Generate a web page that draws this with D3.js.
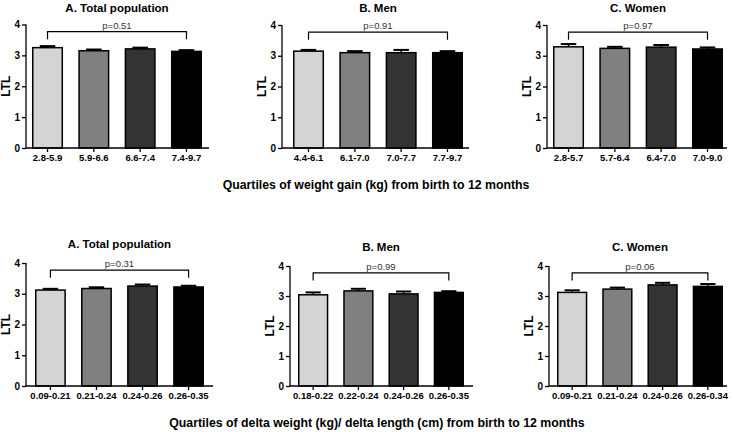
<!DOCTYPE html>
<html><head><meta charset="utf-8">
<script src="https://cdn.jsdelivr.net/npm/d3@7"></script>
<style>body{margin:0;background:#fff}svg{display:block}text{font-family:"Liberation Sans",Arial,sans-serif}</style>
</head><body><svg id="c" width="733" height="432"></svg>
<script>
const titles = ["A. Total population","B. Men","C. Women","A. Total population","B. Men","C. Women"];
const catTopA = ["2.8-5.9","5.9-6.6","6.6-7.4","7.4-9.7"];
const catTopB = ["4.4-6.1","6.1-7.0","7.0-7.7","7.7-9.7"];
const catTopC = ["2.8-5.7","5.7-6.4","6.4-7.0","7.0-9.0"];
const catBotA = ["0.09-0.21","0.21-0.24","0.24-0.26","0.26-0.35"];
const catBotB = ["0.18-0.22","0.22-0.24","0.24-0.26","0.26-0.35"];
const catBotC = ["0.09-0.21","0.21-0.24","0.24-0.26","0.26-0.34"];
const valTopA = [3.25,3.15,3.21,3.13], errTopA = [0.05,0.04,0.04,0.04];
const valTopB = [3.15,3.10,3.10,3.10], errTopB = [0.04,0.05,0.09,0.05];
const valTopC = [3.29,3.24,3.28,3.22], errTopC = [0.09,0.05,0.07,0.05];
const valBotA = [3.12,3.17,3.25,3.22], errBotA = [0.04,0.04,0.05,0.04];
const valBotB = [3.04,3.17,3.07,3.12], errBotB = [0.08,0.07,0.08,0.04];
const valBotC = [3.12,3.23,3.37,3.32], errBotC = [0.07,0.05,0.07,0.08];
const pValues = ["p=0.51","p=0.91","p=0.97","p=0.31","p=0.99","p=0.06"];
const yTicks = [0,1,2,3,4];
const fills = ["#d4d4d4","#808080","#333333","#000000"];
const xTitleTop = "Quartiles of weight gain (kg) from birth to 12 months";
const xTitleBot = "Quartiles of delta weight (kg)/ delta length (cm) from birth to 12 months";
const yLabel = "LTL";

// layout (positions only)
const layout = [
  {ax:26, b0:32, b1:202, ae:209, y0:148, y4:24.5, ty:12},
  {ax:282, b0:293, b1:463, ae:469, y0:148, y4:25, ty:12},
  {ax:547, b0:553, b1:723, ae:727, y0:148, y4:25, ty:12},
  {ax:26, b0:35, b1:204, ae:213, y0:386, y4:263, ty:248},
  {ax:290, b0:298, b1:464, ae:473, y0:386, y4:266, ty:251},
  {ax:549, b0:557, b1:723, ae:727, y0:386, y4:266, ty:251}
];
const cats = [catTopA,catTopB,catTopC,catBotA,catBotB,catBotC];
const vals = [valTopA,valTopB,valTopC,valBotA,valBotB,valBotC];
const errs = [errTopA,errTopB,errTopC,errBotA,errBotB,errBotC];

const svg = d3.select("#c");

layout.forEach((L,i)=>{
  const g = svg.append("g");
  const x = d3.scaleBand().domain(cats[i]).range([L.b0,L.b1]).paddingInner(0.33).paddingOuter(0);
  const y = d3.scaleLinear().domain([0,4]).range([L.y0,L.y4]);
  const data = cats[i].map((c,j)=>({c, v:vals[i][j], e:errs[i][j], f:fills[j]}));

  g.selectAll("rect.bar").data(data).join("rect")
    .attr("x",d=>x(d.c)+0.75).attr("width",x.bandwidth()-1.5)
    .attr("y",d=>y(d.v)).attr("height",d=>y(0)-y(d.v))
    .attr("fill",d=>d.f).attr("stroke","#000").attr("stroke-width",1.5);
  const cw = x.bandwidth()*0.5;
  g.selectAll("line.ev").data(data).join("line")
    .attr("x1",d=>x(d.c)+x.bandwidth()/2).attr("x2",d=>x(d.c)+x.bandwidth()/2)
    .attr("y1",d=>y(d.v)).attr("y2",d=>y(d.v+d.e))
    .attr("stroke","#000").attr("stroke-width",1.5);
  g.selectAll("line.ec").data(data).join("line")
    .attr("x1",d=>x(d.c)+x.bandwidth()/2-cw/2).attr("x2",d=>x(d.c)+x.bandwidth()/2+cw/2)
    .attr("y1",d=>y(d.v+d.e)).attr("y2",d=>y(d.v+d.e))
    .attr("stroke","#000").attr("stroke-width",2);

  const ya = d3.axisLeft(y).tickValues(yTicks).tickSize(4).tickPadding(2).tickFormat(d3.format("d"));
  const yg = g.append("g").attr("transform",`translate(${L.ax},0)`).call(ya);
  yg.select(".domain").remove();
  yg.append("line").attr("x1",0).attr("x2",0).attr("y1",y(0)).attr("y2",y(4)).attr("stroke","#000").attr("stroke-width",1.3);
  yg.selectAll(".tick line").attr("stroke-width",1.3);
  yg.selectAll(".tick text").attr("font-size","10px").attr("font-weight","bold").attr("fill","#000")
    .attr("font-family","'Liberation Sans',Arial,sans-serif");

  const xa = d3.axisBottom(x).tickSize(4).tickPadding(2);
  const xg = g.append("g").attr("transform",`translate(0,${L.y0})`).call(xa);
  xg.select(".domain").remove();
  xg.append("line").attr("x1",L.ax).attr("x2",L.ae).attr("y1",0).attr("y2",0).attr("stroke","#000").attr("stroke-width",1.3);
  xg.selectAll(".tick line").attr("stroke-width",1.3);
  xg.selectAll(".tick text").attr("font-size","9.5px").attr("font-weight","bold").attr("fill","#000")
    .attr("font-family","'Liberation Sans',Arial,sans-serif");

  g.append("text").attr("transform",`translate(${L.ax-16},${(y(0)+y(4))/2}) rotate(-90)`)
    .attr("text-anchor","middle").attr("font-size","12px").attr("font-weight","bold").text(yLabel);

  g.append("text").attr("x",(L.b0+L.b1)/2).attr("y",L.ty).attr("text-anchor","middle")
    .attr("font-size","11.5px").attr("font-weight","bold").text(titles[i]);

  const c0 = x(cats[i][0])+x.bandwidth()/2, c3 = x(cats[i][3])+x.bandwidth()/2;
  const yb = y(3.77), yt = y(3.52);
  g.append("path").attr("d",`M${c0},${yt}V${yb}H${c3}V${yt}`).attr("fill","none").attr("stroke","#000").attr("stroke-width",1.2);
  g.append("text").attr("x",(c0+c3)/2).attr("y",yb-3).attr("text-anchor","middle")
    .attr("font-size","9.5px").attr("fill","#333").text(pValues[i]);
});

svg.append("text").attr("x",376).attr("y",189).attr("text-anchor","middle")
  .attr("font-size","12.3px").attr("font-weight","bold").text(xTitleTop);
svg.append("text").attr("x",377).attr("y",427).attr("text-anchor","middle")
  .attr("font-size","12.3px").attr("font-weight","bold").text(xTitleBot);
</script></body></html>
